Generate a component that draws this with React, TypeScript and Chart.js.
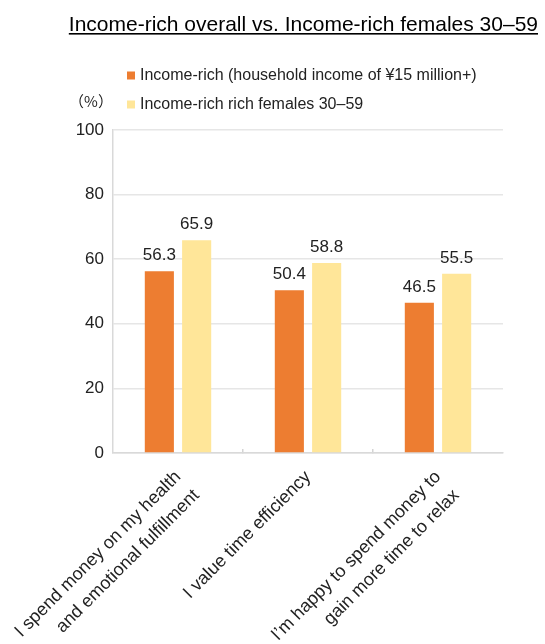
import React, { useEffect, useRef } from "react";
import { Chart, registerables } from "chart.js";

Chart.register(...registerables);

const titleText = "Income-rich overall vs. Income-rich females 30–59";
const unitLabel = "（%）";
const categories: string[][] = [
  ["I spend money on my health", "and emotional fulfillment"],
  ["I value time efficiency"],
  ["I’m happy to spend money to", "gain more time to relax"],
];
const seriesNames = [
  "Income-rich (household income of ¥15 million+)",
  "Income-rich rich females 30–59",
];
const incomeRich = [56.3, 50.4, 46.5];
const richFemales = [65.9, 58.8, 55.5];
const yTicks = [0, 20, 40, 60, 80, 100];

const FONT = "'Liberation Sans', Arial, Helvetica, sans-serif";

const decorPlugin = {
  id: "decor",
  afterDraw(chart: any) {
    const ctx = chart.ctx;
    ctx.save();
    ctx.font = `21px ${FONT}`;
    ctx.fillStyle = "#000";
    ctx.textAlign = "right";
    ctx.textBaseline = "alphabetic";
    const tx = 538;
    const ty = 31;
    ctx.fillText(titleText, tx, ty);
    const w = ctx.measureText(titleText).width;
    ctx.fillRect(tx - w, 33, w, 1.6);

    ctx.font = `16px ${FONT}`;
    ctx.textAlign = "left";
    ctx.textBaseline = "middle";
    chart.data.datasets.forEach((ds: any, i: number) => {
      const cy = 75.5 + i * 29;
      ctx.fillStyle = ds.backgroundColor;
      ctx.fillRect(127, cy - 4, 8, 8);
      ctx.fillStyle = "#222";
      ctx.fillText(ds.label, 140, cy + 0.5);
    });

    ctx.font = `15px 'Noto Sans CJK JP', ${FONT}`;
    ctx.textAlign = "center";
    ctx.fillStyle = "#222";
    ctx.fillText(unitLabel, 91, 101.5);
    ctx.restore();
  },
  afterDatasetsDraw(chart: any) {
    const ctx = chart.ctx;
    ctx.save();
    ctx.font = `17px ${FONT}`;
    ctx.fillStyle = "#222";
    ctx.textAlign = "center";
    ctx.textBaseline = "alphabetic";
    chart.data.datasets.forEach((ds: any, i: number) => {
      const meta = chart.getDatasetMeta(i);
      meta.data.forEach((bar: any, j: number) => {
        ctx.fillText(ds.data[j].toFixed(1), bar.x, bar.y - 11);
      });
    });
    ctx.restore();
  },
};

export default function App() {
  const ref = useRef<HTMLCanvasElement | null>(null);
  useEffect(() => {
    if (!ref.current) return;
    const chart = new Chart(ref.current, {
      type: "bar",
      data: {
        labels: categories,
        datasets: [
          {
            label: seriesNames[0],
            data: incomeRich,
            backgroundColor: "#ED7D31",
            barPercentage: 0.78,
            categoryPercentage: 0.574,
          },
          {
            label: seriesNames[1],
            data: richFemales,
            backgroundColor: "#FFE699",
            barPercentage: 0.78,
            categoryPercentage: 0.574,
          },
        ],
      },
      options: {
        animation: false,
        responsive: false,
        maintainAspectRatio: false,
        layout: { padding: { top: 130, right: 42, bottom: 0, left: 0 } },
        plugins: {
          legend: { display: false },
          title: { display: false },
          tooltip: { enabled: false },
        },
        scales: {
          x: {
            grid: {
              display: true,
              offset: true,
              drawOnChartArea: false,
              drawTicks: true,
              tickLength: -4,
              lineWidth: 1.5,
              color: (c: any) => (c.type === "tick" && c.index > 0 ? "#d4d4d4" : "rgba(0,0,0,0)"),
            },
            border: { display: true, color: "#d9d9d9", width: 1.5 },
            ticks: {
              autoSkip: false,
              maxRotation: 45,
              minRotation: 45,
              padding: 16,
              color: "#222",
              font: { size: 18, family: FONT, lineHeight: 1.45 },
            },
            afterFit: (scale: any) => {
              scale.height = 191;
              scale.paddingLeft = 0;
              scale.paddingRight = 0;
            },
          },
          y: {
            min: 0,
            max: 100,
            afterBuildTicks: (scale: any) => {
              scale.ticks = yTicks.map((v) => ({ value: v }));
            },
            grid: { color: "#e6e6e6", lineWidth: 1.5, drawTicks: false },
            border: { display: true, color: "#d9d9d9", width: 1.5 },
            ticks: {
              padding: 9,
              color: "#222",
              font: { size: 17, family: FONT },
            },
            afterFit: (scale: any) => {
              scale.width = 113;
              scale.paddingTop = 0;
              scale.paddingBottom = 0;
            },
          },
        },
      },
      plugins: [decorPlugin],
    });
    return () => chart.destroy();
  }, []);
  return (
    <div style={{ position: "absolute", left: 0, top: 0, width: 545, height: 644, background: "#fff" }}>
      <canvas ref={ref} width={545} height={644} style={{ display: "block", width: 545, height: 644 }} />
    </div>
  );
}
